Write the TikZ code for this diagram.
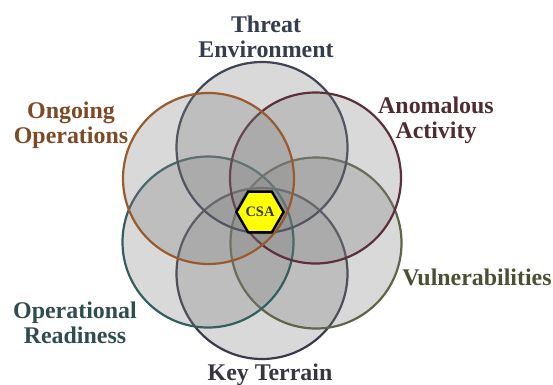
\documentclass[tikz,border=0pt]{standalone}
\usepackage{fontspec}
\setmainfont{Liberation Serif}
\usetikzlibrary{shapes.geometric}
\definecolor{ringfill}{gray}{0.5}
\definecolor{cThreat}{HTML}{3D4556}
\definecolor{cOngoing}{HTML}{9A5A2C}
\definecolor{cAnom}{HTML}{5C2F3A}
\definecolor{cVuln}{HTML}{5E6648}
\definecolor{cOper}{HTML}{345E60}
\definecolor{cKey}{HTML}{3A3A4A}
\definecolor{tThreat}{HTML}{343C50}
\definecolor{tOngoing}{HTML}{7D4A26}
\definecolor{tAnom}{HTML}{4E2C32}
\definecolor{tVuln}{HTML}{4A5034}
\definecolor{tOper}{HTML}{2F4D4F}
\definecolor{tKey}{HTML}{36363F}
\definecolor{csayellow}{HTML}{FFFF00}
\begin{document}
\begin{tikzpicture}[x=1bp,y=-1bp,
  ring/.style={circle, minimum size=171bp, inner sep=0pt, line width=2.2bp,
    fill=ringfill, fill opacity=0.3, draw opacity=1},
  lbl/.style={font=\bfseries\fontsize{24}{25}\selectfont, align=center,
    anchor=base, inner sep=0pt},
  hexbox/.style={regular polygon, regular polygon sides=6,
    minimum size=47bp, inner sep=0pt, fill=csayellow, draw=black, line width=2.4bp,
    font=\bfseries\fontsize{14.5}{15}\selectfont, text=black!80}
]
\useasboundingbox (0,0) rectangle (553,384);
% circles
\node[ring, draw=cKey]     (rKey)     at (262,273.5) {};
\node[ring, draw=cVuln]    (rVuln)    at (316,243) {};
\node[ring, draw=cOper]    (rOper)    at (208,242) {};
\node[ring, draw=cThreat]  (rThreat)  at (262,147.5) {};
\node[ring, draw=cAnom]    (rAnom)    at (315.5,178) {};
\node[ring, draw=cOngoing] (rOngoing) at (208.5,178.5) {};
% centre
\node[hexbox] (csa) at (260,212) {CSA};
% labels (anchor = baseline of the last line)
\node[lbl, text=tThreat]  (lThreat)  at (266,57)  {Threat\\Environment};
\node[lbl, text=tOngoing] (lOngoing) at (71,143)  {Ongoing\\Operations};
\node[lbl, text=tAnom]    (lAnom)    at (436,138) {Anomalous\\Activity};
\node[lbl, text=tVuln]    (lVuln)    at (477,285) {Vulnerabilities};
\node[lbl, text=tOper]    (lOper)    at (75,343)  {Operational\\Readiness};
\node[lbl, text=tKey]     (lKey)     at (270,380) {Key Terrain};
\end{tikzpicture}
\end{document}
